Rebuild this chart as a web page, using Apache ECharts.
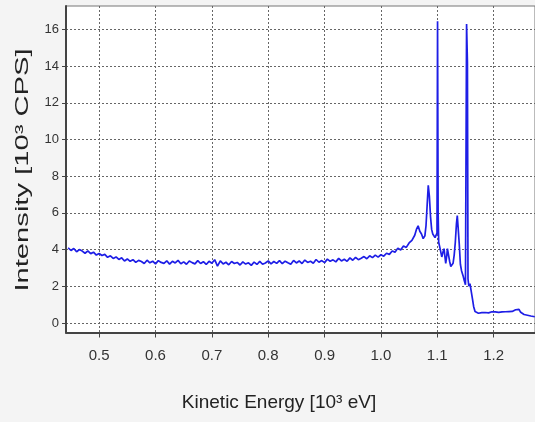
<!DOCTYPE html>
<html>
<head>
<meta charset="utf-8">
<script src="https://cdn.jsdelivr.net/npm/echarts@6/dist/echarts.min.js"></script>
<style>
  html, body { margin: 0; padding: 0; background: #f4f4f4; }
  #main { width: 535px; height: 422px; }
</style>
</head>
<body>
<div id="main"></div>
<script>
// kinetic energy (10^3 eV) and intensity (10^3 CPS)
const energy = [
  0.445, 0.450, 0.455, 0.460, 0.465, 0.470, 0.475, 0.480, 0.485, 0.490,
  0.495, 0.500, 0.505, 0.510, 0.515, 0.520, 0.525, 0.530, 0.535, 0.540,
  0.545, 0.550, 0.555, 0.560, 0.565, 0.570, 0.575, 0.580, 0.585, 0.590,
  0.595, 0.600, 0.605, 0.610, 0.615, 0.620, 0.625, 0.630, 0.635, 0.640,
  0.645, 0.650, 0.655, 0.660, 0.665, 0.670, 0.675, 0.680, 0.685, 0.690,
  0.695, 0.700, 0.705, 0.710, 0.715, 0.720, 0.725, 0.730, 0.735, 0.740,
  0.745, 0.750, 0.755, 0.760, 0.765, 0.770, 0.775, 0.780, 0.785, 0.790,
  0.795, 0.800, 0.805, 0.810, 0.815, 0.820, 0.825, 0.830, 0.835, 0.840,
  0.845, 0.850, 0.855, 0.860, 0.865, 0.870, 0.875, 0.880, 0.885, 0.890,
  0.895, 0.900, 0.905, 0.910, 0.915, 0.920, 0.925, 0.930, 0.935, 0.940,
  0.945, 0.950, 0.955, 0.960, 0.965, 0.970, 0.975, 0.980, 0.985, 0.990,
  0.995, 1.000, 1.005, 1.010, 1.015, 1.020, 1.025, 1.030, 1.035, 1.040,
  1.045, 1.050, 1.055, 1.060, 1.063, 1.066, 1.069, 1.072, 1.075, 1.078,
  1.080, 1.082, 1.084, 1.086, 1.088, 1.090, 1.092, 1.094, 1.096, 1.098,
  1.0995, 1.1005, 1.1015, 1.1025, 1.105, 1.108, 1.110, 1.112, 1.114, 1.115,
  1.117, 1.118, 1.120, 1.122, 1.124, 1.126, 1.128, 1.130, 1.132, 1.134,
  1.1355, 1.137, 1.139, 1.141, 1.143, 1.146, 1.148, 1.150, 1.151, 1.152,
  1.1535, 1.1545, 1.156, 1.158, 1.160, 1.1625, 1.1645, 1.167, 1.170, 1.173,
  1.176, 1.179, 1.182, 1.185, 1.188, 1.191, 1.194, 1.197, 1.200, 1.203,
  1.206, 1.209, 1.212, 1.215, 1.218, 1.221, 1.224, 1.227, 1.230, 1.233,
  1.236, 1.239, 1.2425, 1.245, 1.248, 1.251, 1.254, 1.257, 1.260, 1.263,
  1.266, 1.269, 1.273
];
const intensity = [
  4.10, 3.95, 4.06, 3.88, 4.00, 3.92, 3.80, 3.93, 3.78, 3.86,
  3.70, 3.79, 3.68, 3.74, 3.58, 3.66, 3.52, 3.60, 3.46, 3.55,
  3.38, 3.49, 3.36, 3.45, 3.30, 3.41, 3.35, 3.24, 3.42, 3.28,
  3.37, 3.22, 3.40, 3.30, 3.25, 3.39, 3.21, 3.36, 3.27, 3.41,
  3.23, 3.33, 3.20, 3.38, 3.29, 3.22, 3.40, 3.24, 3.34, 3.19,
  3.36, 3.26, 3.45, 3.10, 3.38, 3.22, 3.31, 3.17, 3.35, 3.24,
  3.30, 3.16, 3.33, 3.21, 3.28, 3.14, 3.32, 3.19, 3.36, 3.20,
  3.27, 3.38, 3.22, 3.35, 3.25, 3.40, 3.23, 3.37, 3.28, 3.20,
  3.41, 3.27, 3.38, 3.24, 3.43, 3.30, 3.36, 3.26, 3.46, 3.31,
  3.40, 3.29, 3.48, 3.36, 3.44, 3.33, 3.52, 3.38, 3.47, 3.36,
  3.55, 3.42, 3.58, 3.45, 3.53, 3.62, 3.50, 3.66, 3.56, 3.70,
  3.59, 3.72, 3.64, 3.80, 3.74, 3.92, 3.86, 4.08, 3.98, 4.20,
  4.12, 4.36, 4.50, 4.78, 5.10, 5.30, 5.00, 4.85, 4.60, 4.75,
  5.30, 6.40, 7.50, 6.90, 5.80, 5.10, 4.85, 4.90, 4.65, 4.55,
  4.90, 16.45, 6.00, 4.40, 4.05, 3.60, 3.85, 4.05, 3.50, 3.25,
  3.70, 4.05, 3.70, 3.35, 3.08, 3.15, 3.25, 3.70, 4.40, 5.40,
  5.85, 5.20, 4.30, 3.20, 2.85, 2.55, 2.30, 2.08, 2.10, 16.30,
  14.20, 2.40, 2.00, 2.15, 2.20, 1.30, 0.90, 0.62, 0.58, 0.53,
  0.60, 0.56, 0.62, 0.57, 0.60, 0.55, 0.59, 0.61, 0.56, 0.60,
  0.63, 0.58, 0.62, 0.60, 0.65, 0.61, 0.64, 0.62, 0.66, 0.63,
  0.68, 0.72, 0.82, 0.74, 0.58, 0.52, 0.46, 0.44, 0.42, 0.40,
  0.38, 0.36, 0.34
];
const xTicks = [0.5, 0.6, 0.7, 0.8, 0.9, 1.0, 1.1, 1.2];
const yTicks = [0, 2, 4, 6, 8, 10, 12, 14, 16];

const points = energy.map((e, i) => [e, intensity[i]]);

const myChart = echarts.init(document.getElementById('main'));

const gridLine = { show: true, lineStyle: { color: '#666', type: [2, 2], width: 1 } };

const option = {
  animation: false,
  backgroundColor: '#f4f4f4',
  grid: {
    left: 66, right: -2, top: 6, bottom: 89.5,
    show: true, backgroundColor: '#fff', borderColor: '#777', borderWidth: 1
  },
  xAxis: {
    type: 'value',
    min: 0.4412,
    max: 1.2734,
    splitNumber: 8,
    axisLine: { show: true, onZero: false, lineStyle: { color: '#444', width: 2 } },
    axisTick: { show: true, customValues: xTicks, length: 5, lineStyle: { color: '#444' } },
    axisLabel: {
      customValues: xTicks,
      margin: 16,
      color: '#333',
      fontFamily: 'Liberation Sans Narrow, Liberation Sans, sans-serif',
      fontSize: 15,
      formatter: v => v.toFixed(1)
    },
    splitLine: gridLine
  },
  yAxis: {
    type: 'value',
    min: -0.52,
    max: 17.28,
    splitNumber: 9,
    axisLine: { show: true, lineStyle: { color: '#444', width: 2 } },
    axisTick: { show: true, customValues: yTicks, length: 4, lineStyle: { color: '#444' } },
    axisLabel: {
      customValues: yTicks,
      margin: 7,
      color: '#333',
      fontFamily: 'Liberation Sans Narrow, Liberation Sans, sans-serif',
      fontSize: 13
    },
    splitLine: gridLine
  },
  graphic: [
    {
      type: 'text', x: 279, y: 403,
      style: {
        text: 'Kinetic Energy [10³ eV]',
        font: '19px "Liberation Sans", Arial, sans-serif',
        fill: '#222', align: 'center', verticalAlign: 'middle'
      }
    },
    {
      type: 'text', x: 23.5, y: 170, rotation: Math.PI / 2, scaleX: 1.62,
      style: {
        text: 'Intensity [10³ CPS]',
        font: '18px "Liberation Sans", Arial, sans-serif',
        fill: '#222', align: 'center', verticalAlign: 'middle'
      }
    }
  ],
  series: [{
    type: 'line',
    data: points,
    showSymbol: false,
    lineStyle: { color: '#1e1ee6', width: 1.7 },
    z: 5
  }]
};

myChart.setOption(option);
</script>
</body>
</html>
